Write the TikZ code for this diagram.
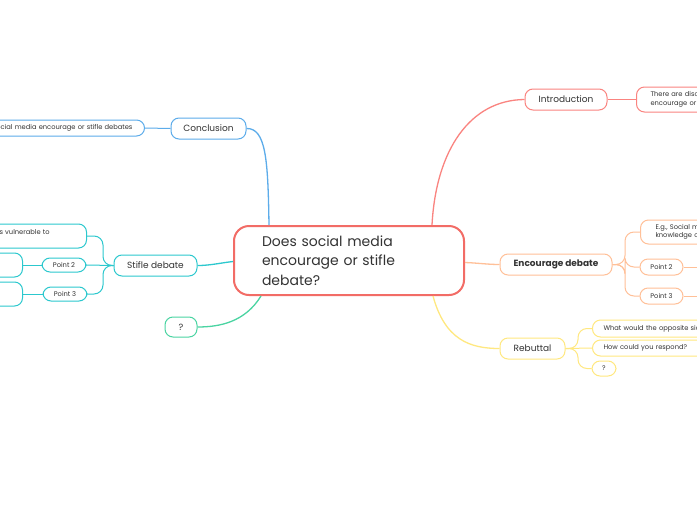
\documentclass[tikz,border=0pt]{standalone}
\usepackage{fontspec}
\setmainfont{Poppins}
\definecolor{cred}{RGB}{242,108,102}
\definecolor{cintro}{RGB}{250,132,128}
\definecolor{cblue}{RGB}{92,172,234}
\definecolor{cteal}{RGB}{44,200,206}
\definecolor{cgreen}{RGB}{74,212,162}
\definecolor{corange}{RGB}{255,192,152}
\definecolor{cyellow}{RGB}{255,232,128}
\definecolor{ctxt}{RGB}{51,51,51}
\begin{document}
\begin{tikzpicture}[x=1pt,y=-1pt,
  mbox/.style={draw=#1, fill=white, rounded corners=8pt, line width=1pt, inner sep=0pt, text=ctxt},
  lone/.style={font=\fontsize{9}{10}\selectfont},
  ltwo/.style={font=\fontsize{6.7}{8.5}\selectfont},
  conn/.style={draw=#1, line width=1.3pt},
  sub/.style={draw=#1, line width=1pt, rounded corners=9pt}]
\useasboundingbox (0,0) rectangle (697,520);
\fill[white] (0,0) rectangle (697,520);
\clip (0,0) rectangle (697,520);

% central node
\node[mbox=cred, line width=2pt, rounded corners=15pt, minimum width=230, minimum height=69,
  inner xsep=28pt, text width=174pt, align=left, font=\fontsize{14}{19.5}\selectfont] (c) at (349,260.5)
  {Does social media\\encourage or stifle\\debate?};

% level one
\node[mbox=cintro, lone, minimum width=82, minimum height=21] (intro) at (566,99.5) {Introduction};
\node[mbox=cblue, lone, minimum width=75, minimum height=21] (concl) at (208.5,128.5) {Conclusion};
\node[mbox=cteal, lone, minimum width=83, minimum height=21] (stifle) at (155.5,265.5) {Stifle debate};
\node[mbox=cgreen, lone, minimum width=32, minimum height=20] (q) at (181,327) {?};
\node[mbox=corange, lone, font=\fontsize{9}{10}\selectfont\bfseries, minimum width=112, minimum height=21] (enc) at (556,264.5) {Encourage debate};
\node[mbox=cyellow, lone, minimum width=65, minimum height=21] (reb) at (532.5,348.5) {Rebuttal};

% level two
\node[mbox=cintro, ltwo, anchor=west, minimum height=25, inner xsep=14pt, text width=100pt, align=left] (introc) at (636,99.5) {There are disc\\encourage or};
\node[mbox=cblue, ltwo, anchor=east, minimum height=16, inner xsep=12pt, text width=150pt, align=right] (conclc) at (145,128) {ocial media encourage or stifle debates};

\node[mbox=cteal, ltwo, anchor=east, minimum height=24, inner xsep=20pt, text width=67pt, align=left] (s1) at (87,236) {s vulnerable to\\\mbox{}};
\node[mbox=cteal, ltwo, minimum width=44, minimum height=14] (s2) at (64,265) {Point 2};
\node[mbox=cteal, ltwo, minimum width=44, minimum height=14] (s3) at (65,294) {Point 3};
\node[mbox=cteal, anchor=east, minimum width=40, minimum height=24] (s2c) at (23,265) {};
\node[mbox=cteal, anchor=east, minimum width=40, minimum height=24] (s3c) at (23,294) {};

\node[mbox=corange, ltwo, anchor=west, minimum height=24, inner xsep=15pt, text width=90pt, align=left] (e1) at (640,232) {E.g., Social m\\knowledge c};
\node[mbox=corange, ltwo, minimum width=43, minimum height=16] (e2) at (661.5,267) {Point 2};
\node[mbox=corange, ltwo, minimum width=43, minimum height=16] (e3) at (661.5,296) {Point 3};
\coordinate (e2c) at (705,267);
\coordinate (e3c) at (705,296);

\node[mbox=cyellow, ltwo, anchor=west, minimum height=17, inner xsep=11pt, text width=110pt, align=left] (r1) at (592,328.5) {What would the opposite sid};
\node[mbox=cyellow, ltwo, anchor=west, minimum height=16, inner xsep=11pt, text width=110pt, align=left] (r2) at (592,348) {How could you respond?};
\node[mbox=cyellow, ltwo, minimum width=24, minimum height=15] (r3) at (604,368.5) {?};

% main connectors
\path[conn=cintro] (c.north east) ++(-33,0) .. controls (436,150) and (470,100) .. (intro.west);
\path[conn=cblue] (c.north west) ++(36,0) .. controls (268,160) and (266,128) .. (concl.east);
\path[conn=cteal] (c.west) ++(0,1) .. controls (220,263) and (210,265.5) .. (stifle.east);
\path[conn=cgreen] (c.south west) ++(28,0) .. controls (245,322) and (220,327) .. (q.east);
\path[conn=corange] (c.east) ++(0,2) .. controls (478,263) and (488,264.5) .. (enc.west);
\path[conn=cyellow] (c.south east) ++(-32,0) .. controls (445,340) and (470,348.5) .. (reb.west);

% sub connectors
\draw[sub=cintro] (intro.east) -- (introc.west);
\draw[sub=cblue] (concl.west) -- (conclc.east);
\draw[sub=cteal] (stifle.west) -- (103,265.5) |- (s1.east);
\draw[sub=cteal] (stifle.west) -- (s2.east);
\draw[sub=cteal] (stifle.west) -- (103,265.5) |- (s3.east);
\draw[sub=cteal] (s2.west) -- (s2c.east);
\draw[sub=cteal] (s3.west) -- (s3c.east);
\draw[sub=corange] (enc.east) -- (625,264.5) |- (e1.west);
\draw[sub=corange] (enc.east) -- (625,264.5) |- (e2.west);
\draw[sub=corange] (enc.east) -- (625,264.5) |- (e3.west);
\draw[sub=corange] (e2.east) -- (e2c);
\draw[sub=corange] (e3.east) -- (e3c);
\draw[sub=cyellow] (reb.east) -- (578,348.5) |- (r1.west);
\draw[sub=cyellow] (reb.east) -- (r2.west);
\draw[sub=cyellow] (reb.east) -- (578,348.5) |- (r3.west);
\end{tikzpicture}
\end{document}
